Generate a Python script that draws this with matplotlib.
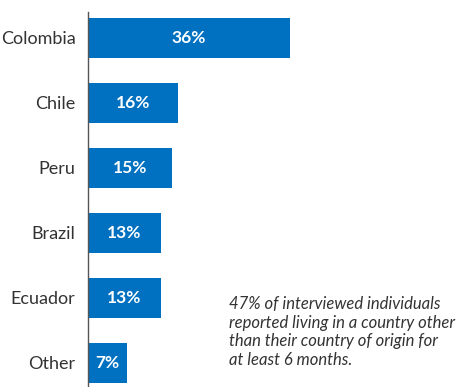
import matplotlib
matplotlib.use("Agg")
import matplotlib.pyplot as plt

countries = ["Colombia", "Chile", "Peru", "Brazil", "Ecuador", "Other"]
shares = [36, 16, 15, 13, 13, 7]
note = ("47% of interviewed individuals\n"
        "reported living in a country other\n"
        "than their country of origin for\n"
        "at least 6 months.")

bar_color = "#0070C0"
text_color = "#333333"

plt.rcParams["font.family"] = ["Lato", "DejaVu Sans"]

fig = plt.figure(figsize=(4.62, 3.87), dpi=100)
ax = fig.add_axes([88 / 462, 0, 374 / 462, 375 / 387])

y = list(range(len(countries)))
ax.barh(y, shares, height=0.615, color=bar_color)
ax.set_xlim(0, 374 / 5.61)
ax.set_ylim(5.37, -0.4)

# values in the middle of each bar
for yi, v in zip(y, shares):
    ax.text(v / 2, yi, f"{v}%", ha="center", va="center",
            color="white", fontsize=12.5, fontweight="bold")

ax.set_yticks(y)
ax.set_yticklabels(countries, fontsize=13, color=text_color)
ax.tick_params(axis="y", length=0, pad=9)
ax.set_xticks([])

for side in ["top", "right", "bottom"]:
    ax.spines[side].set_visible(False)
ax.spines["left"].set_color("#555555")
ax.spines["left"].set_linewidth(1)

fig.text(229 / 462, 1 - 296 / 387, note, ha="left", va="top",
         fontsize=12, style="italic", color=text_color, linespacing=1.2)

fig.savefig("out.png", dpi=100)
